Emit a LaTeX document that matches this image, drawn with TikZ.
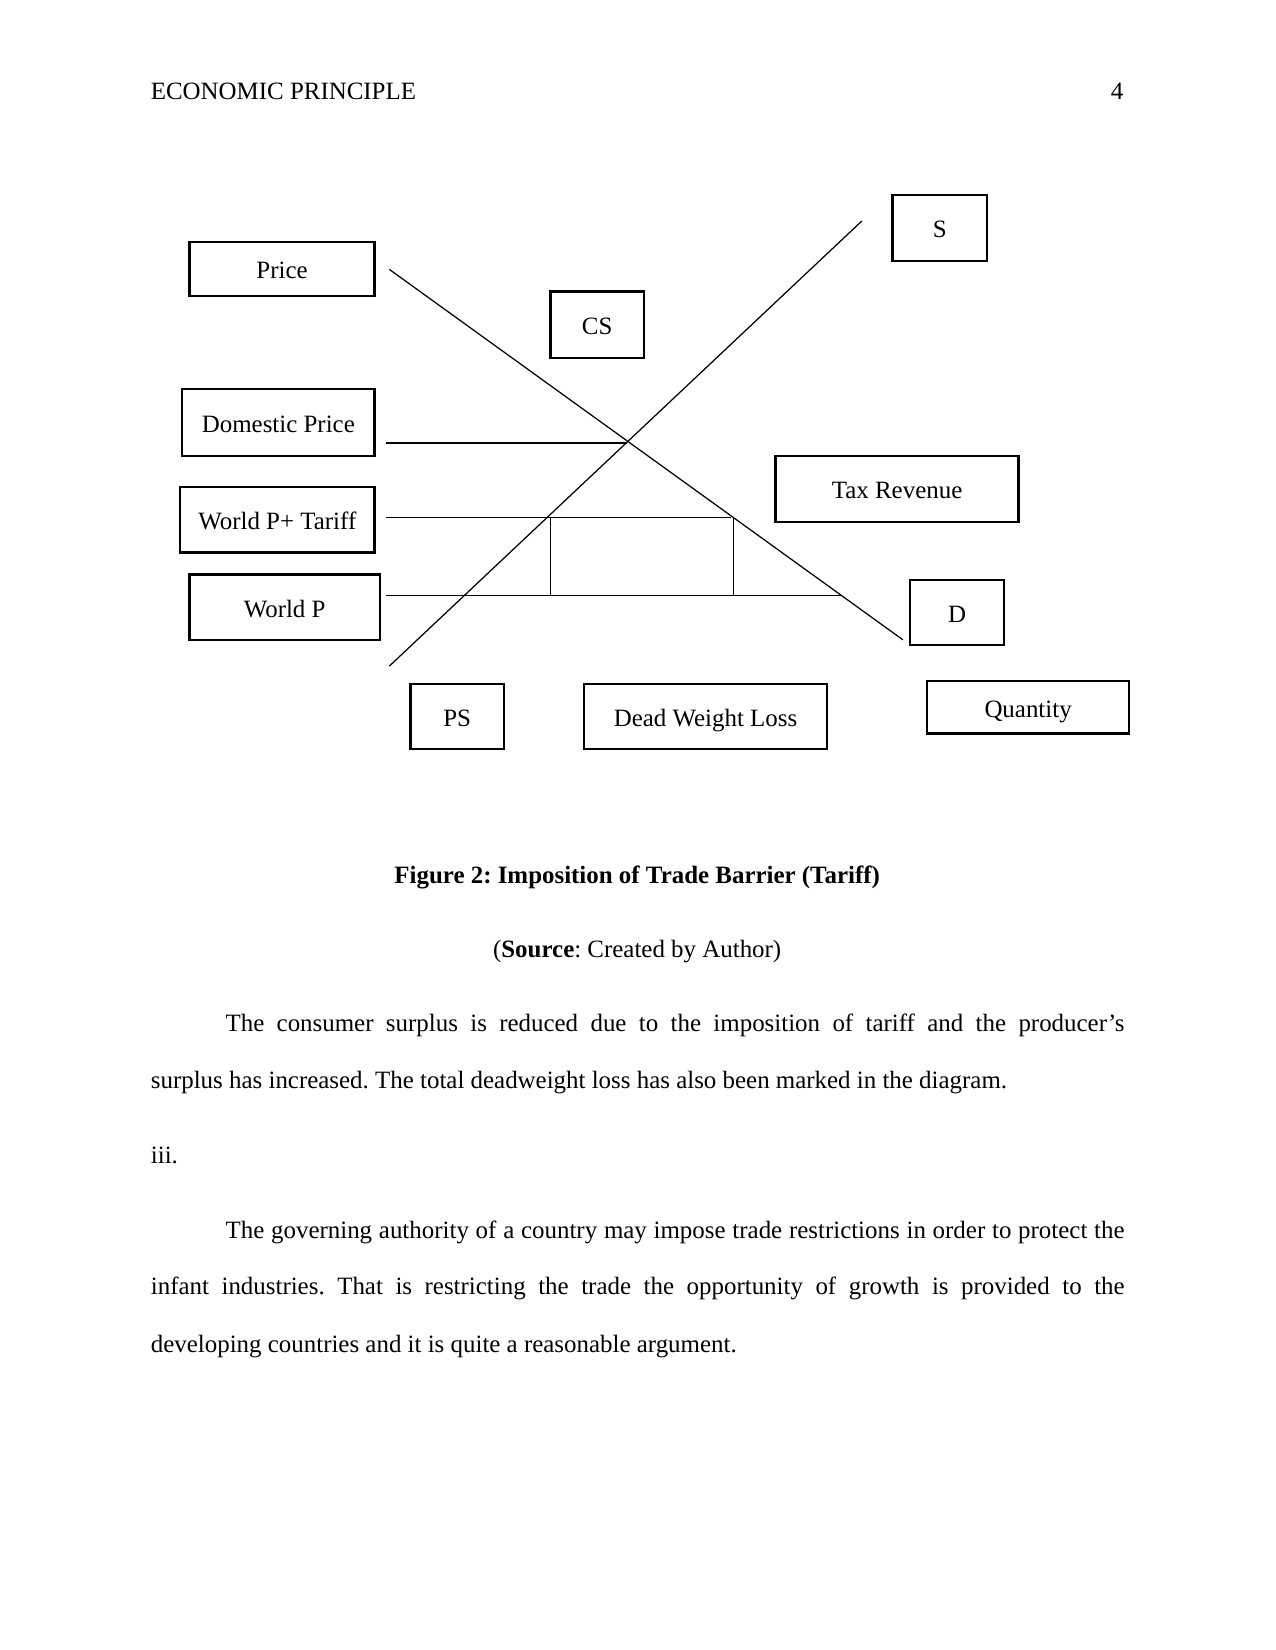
\documentclass[tikz,border=0pt]{standalone}
\usepackage{fontspec}
\setmainfont{Liberation Serif}
\frenchspacing
\usetikzlibrary{positioning,calc}

\tikzset{
  lbl/.style 2 args={draw, line width=1.1pt, inner sep=0pt,
    text height=9.5pt, text depth=0pt,
    minimum width=#1*0.017813cm, minimum height=#2*0.017813cm},
  curve/.style={line width=0.6pt},
  txt/.style={inner sep=0pt, anchor=base west}
}

\begin{document}
\begin{tikzpicture}[x=0.017813cm, y=-0.017813cm,
  every node/.style={font=\fontsize{12pt}{14pt}\selectfont}]
  \useasboundingbox (0,0) rectangle (1212,1568);

  % running head
  \node[txt] (head) at (143,94.5) {ECONOMIC PRINCIPLE};
  \node[inner sep=0pt, anchor=base east] (pageno) at (1068,94.5) {4};

  % supply and demand
  \coordinate (dtop) at (370,256);
  \coordinate (dbot) at (858,608);
  \coordinate (sbot) at (370,633);
  \coordinate (stop) at (819,210);
  \draw[curve] (dtop) -- (dbot);
  \draw[curve] (sbot) -- (stop);

  % price levels
  \coordinate (dp0) at (367,421);
  \coordinate (dp1) at (596,421);
  \coordinate (wt0) at (367,492);
  \coordinate (wt1) at (695,492);
  \coordinate (wp0) at (367,566);
  \coordinate (wp1) at (800,566);
  \draw[curve] (dp0) -- (dp1);
  \draw[curve] (wt0) -- (wt1);
  \draw[curve] (wp0) -- (wp1);
  \draw[curve] (523,492) -- (523,566);
  \draw[curve] (697,492) -- (697,566);

  % labels
  \node[lbl={176}{51}] (price) at (268,255.5) {Price};
  \node[lbl={90}{63}] (sup) at (893,216.5) {S};
  \node[lbl={89}{63}] (cs) at (567.5,308.5) {CS};
  \node[lbl={183}{63}] (dom) at (264.5,401.5) {Domestic Price};
  \node[lbl={231}{63}] (tax) at (852.5,464.5) {Tax Revenue};
  \node[lbl={185}{62}] (wpt) at (263.5,494) {World P+ Tariff};
  \node[lbl={181}{62}] (wp) at (270.5,577) {World P};
  \node[lbl={89}{62}] (dem) at (909.5,582) {D};
  \node[lbl={89}{62}] (ps) at (434.5,681) {PS};
  \node[lbl={231}{62}] (dwl) at (670.5,681) {Dead Weight Loss};
  \node[lbl={192}{50}] (qty) at (977,672) {Quantity};

  % caption
  \node[inner sep=0pt, anchor=base] (cap) at (605.5,839.5) {\textbf{Figure 2: Imposition of Trade Barrier (Tariff)}};
  \node[inner sep=0pt, anchor=base] (src) at (605.5,909.5) {(\textbf{Source}: Created by Author)};

  % body text
  \node[txt] (l1) at (214,980.5) {\makebox[15.212cm][s]{The consumer surplus is reduced due to the imposition of tariff and the producer’s}};
  \node[txt] (l2) at (143,1034.5) {surplus has increased. The total deadweight loss has also been marked in the diagram.};
  \node[txt] (l3) at (143,1105.5) {iii.};
  \node[txt] (l4) at (214,1176.5) {\makebox[15.212cm][s]{The governing authority of a country may impose trade restrictions in order to protect the}};
  \node[txt] (l5) at (143,1230.5) {\makebox[16.477cm][s]{infant industries. That is restricting the trade the opportunity of growth is provided to the}};
  \node[txt] (l6) at (143,1285.5) {developing countries and it is quite a reasonable argument.};
\end{tikzpicture}
\end{document}
